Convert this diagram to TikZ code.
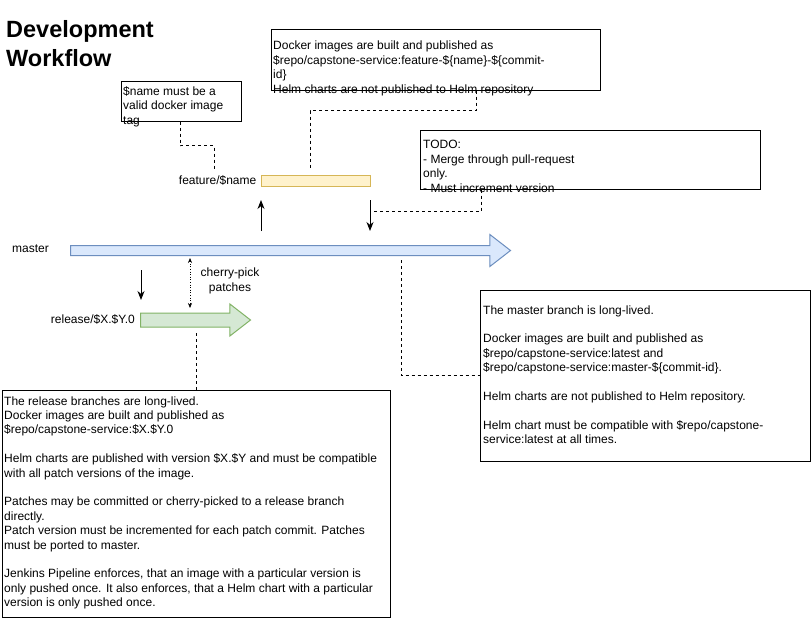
\documentclass[tikz,border=0pt]{standalone}
\usepackage{fontspec}
\setmainfont{Liberation Sans}
\usetikzlibrary{arrows.meta, positioning, shapes.arrows}
\definecolor{featurefill}{HTML}{FFF2CC}\definecolor{featuredraw}{HTML}{D6B656}
\definecolor{masterfill}{HTML}{DAE8FC}\definecolor{masterdraw}{HTML}{6C8EBF}
\definecolor{releasefill}{HTML}{D5E8D4}\definecolor{releasedraw}{HTML}{82B366}

\begin{document}
\begin{tikzpicture}[x=1pt,y=-1pt,>=Stealth,txt/.style={font=\fontsize{12}{14.4}\selectfont, inner sep=0pt, align=left},note/.style={draw, fill=white, line width=1pt, inner sep=0pt},guide/.style={line width=0.8pt, dash pattern=on 3pt off 3pt},flow/.style={-{Stealth[length=9pt,width=7pt]}, line width=1pt},patch/.style={{Stealth[length=5pt,width=4pt]}-{Stealth[length=5pt,width=4pt]}, dotted, line width=0.6pt},branch/.style={single arrow, draw=#1draw, fill=#1fill, line width=1pt, inner xsep=0pt, single arrow tip angle=75.6, single arrow head indent=0pt, anchor=tail}]
\path[use as bounding box, fill=white] (0,0) rectangle (811,618);
\node[anchor=north west, inner sep=0pt, align=left, font=\bfseries\fontsize{23.5}{29}\selectfont] (title) at (6,20.5) {Development\\Workflow};
\node[branch=master, inner ysep=4.5pt, single arrow head extend=11pt, minimum height=440pt] (master) at (70,250.5) {};
\node[branch=release, inner ysep=6.5pt, single arrow head extend=9pt, minimum height=110pt] (release) at (140,320) {};
\node[draw=featuredraw, fill=featurefill, line width=1pt, inner sep=0pt, minimum width=109pt, minimum height=10.5pt] (feature) at (315.5,180.8) {};
\node[txt, anchor=base west] (masterlbl) at (12,252) {master};
\node[txt, left=4pt of feature] (featurelbl) {feature/\$name};
\node[txt, anchor=base east] (releaselbl) at (135,323) {release/\$X.\$Y.0};
\node[txt, align=center, anchor=base] (cherrylbl) at (230,291) {cherry-pick\\patches};
\node[note, minimum width=120pt, minimum height=40pt] (tagnote) at (181,101) {};
\node[txt, anchor=base west] (tagtext) at (123,124) {\$name must be a\\valid docker image\\tag};
\node[note, minimum width=329pt, minimum height=60pt] (dockernote) at (435.5,60) {};
\node[txt, anchor=base west] (dockertext) at (273,93) {Docker images are built and published as\\\$repo/capstone-service:feature-\$\{name\}-\$\{commit-\\id\}\\Helm charts are not published to Helm repository};
\node[note, minimum width=340pt, minimum height=59pt] (todonote) at (590,159.5) {};
\node[txt, anchor=base west] (todotext) at (423,192) {TODO:\\- Merge through pull-request\\only.\\- Must increment version};
\node[note, minimum width=330pt, minimum height=171pt] (masternote) at (645,375.5) {};
\node[txt, anchor=base west] (mastertext) at (483,443.6) {The master branch is long-lived.\\[14.4pt]Docker images are built and published as\\\$repo/capstone-service:latest and\\\$repo/capstone-service:master-\$\{commit-id\}.\\[14.4pt]Helm charts are not published to Helm repository.\\[14.4pt]Helm chart must be compatible with \$repo/capstone-\\service:latest at all times.};
\node[note, minimum width=388pt, minimum height=227pt] (releasenote) at (196,503.5) {};
\node[txt, anchor=base west] (releasetext) at (4,606.6) {The release branches are long-lived.\\Docker images are built and published as\\\$repo/capstone-service:\$X.\$Y.0\\[14.4pt]Helm charts are published with version \$X.\$Y and must be compatible\\with all patch versions of the image.\\[14.4pt]Patches may be committed or cherry-picked to a release branch\\directly.\\Patch version must be incremented for each patch commit. Patches\\must be ported to master.\\[14.4pt]Jenkins Pipeline enforces, that an image with a particular version is\\only pushed once. It also enforces, that a Helm chart with a particular\\version is only pushed once.};
\coordinate (tagend) at (214,170); \coordinate (featend) at (310,168); \coordinate (mergeend) at (372,211);
\coordinate (masterdrop) at (401,260); \coordinate (releasedrop) at (196,333);
\draw[guide] ([xshift=-1pt]tagnote.south) -- ++(0,24) -| (tagend);
\draw[guide] ([xshift=40.5pt]dockernote.south) -- ++(0,20) -| (featend);
\draw[guide] ([xshift=-109pt]todonote.south) |- (mergeend);
\draw[guide] (masterdrop) |- (masternote.west);
\draw[guide] (releasedrop) -- (releasenote.north);
\coordinate (branchfrom) at (261,231); \coordinate (branchto) at (261,200);
\coordinate (mergefrom) at (370,200); \coordinate (mergeto) at (370,231);
\coordinate (cutfrom) at (141,270); \coordinate (cutto) at (141,300);
\coordinate (picktop) at (190,258); \coordinate (pickbottom) at (190,308);
\draw[flow] (branchfrom) -- (branchto); \draw[flow] (mergefrom) -- (mergeto);
\draw[flow] (cutfrom) -- (cutto); \draw[patch] (picktop) -- (pickbottom);
\end{tikzpicture}
\end{document}
